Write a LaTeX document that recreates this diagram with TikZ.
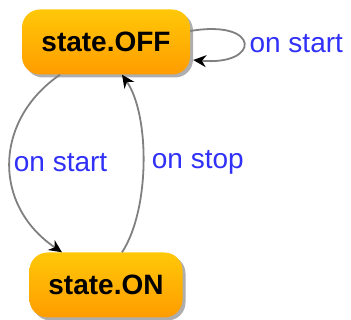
\documentclass[tikz,border=0pt]{standalone}
\usepackage{fontspec}
\setmainfont{Liberation Sans}
\usepackage{tikz}
\usetikzlibrary{positioning,arrows.meta,shadows}
\definecolor{stateTop}{HTML}{FFC808}
\definecolor{stateBot}{HTML}{FF9C00}
\definecolor{edgeGray}{HTML}{808080}
\definecolor{lblBlue}{HTML}{3030F8}

\begin{document}
\begin{tikzpicture}[x=1pt, y=-1pt,
    state/.style={rounded corners=18pt, top color=stateTop, bottom color=stateBot,
        draw=none, minimum height=65pt, inner sep=0pt,
        font=\bfseries\fontsize{28}{32}\selectfont,
        drop shadow={shadow xshift=3pt, shadow yshift=-3pt, fill=black!45, opacity=0.7}},
    trans/.style={draw=edgeGray, line width=1.8pt,
        -{Stealth[length=13pt, width=12pt, color=black]}},
    lbl/.style={text=lblBlue, font=\fontsize{28}{32}\selectfont, anchor=west}]

\useasboundingbox (0,0) rectangle (351,320);

%%% ---------- ESTADOS ----------
\node[state, minimum width=168pt] (off) at (106,42) {state.OFF};
\node[state, minimum width=153pt] (on)  at (106,285) {state.ON};

%%% ---------- TRANSICIONES ----------
% bucle sobre OFF
\draw[trans] ([yshift=11pt]off.east) .. controls (261,19) and (261,66)
    .. node[lbl, pos=0.5, inner sep=5pt] (lblloop) {on start} ([xshift=3pt, yshift=-18pt]off.east);

% OFF -> ON
\draw[trans] ([xshift=-46pt]off.south) .. controls (-6,120) and (-8,205)
    .. node[lbl, pos=0.5, inner sep=3pt] (lblstart) {on start} ([xshift=-44pt]on.north);

% ON -> OFF
\draw[trans] ([xshift=16pt]on.north) .. controls (150,210) and (150,115)
    .. node[lbl, pos=0.5, inner sep=8pt] (lblstop) {on stop} ([xshift=16pt]off.south);

\end{tikzpicture}
\end{document}
